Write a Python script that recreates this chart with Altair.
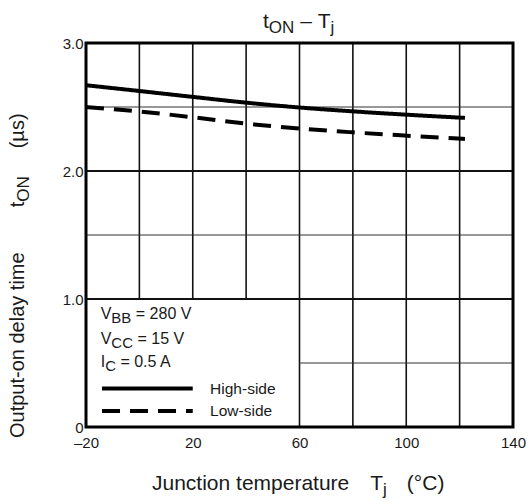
import altair as alt
import pandas as pd

# ---------------- data ----------------
temps = [-20, 0, 20, 40, 60, 80, 100, 122]
high_side = [2.670, 2.625, 2.579, 2.534, 2.496, 2.466, 2.440, 2.415]
low_side = [2.500, 2.465, 2.420, 2.370, 2.332, 2.302, 2.276, 2.250]
series_names = ["High-side", "Low-side"]

x_ticks = [-20, 20, 60, 100, 140]
y_ticks = [0, 1.0, 2.0, 3.0]
x_grid = [0, 20, 40, 60, 80, 100, 120]
y_grid_major = [1.0, 2.0]
y_grid_minor = [0.5, 1.5, 2.5]
x_domain = [-20, 140]
y_domain = [0, 3.0]
box_x = [-20, 60]     # legend box (white area, no grid)
box_y = [0, 1.0]

cond_main = ["V", "V", "I"]
cond_sub = ["BB", "CC", "C"]
cond_rest = ["= 280 V", "= 15 V", "= 0.5 A"]
cond_y = [0.844, 0.648, 0.465]
legend_y = [0.30, 0.125]
legend_x = [-14, 20]
legend_label_x = 26.5

FONT = "Liberation Sans"
INK = "#1a1a1a"
W_PLOT, H_PLOT = 427, 384

# Arial / Liberation Sans advance widths (1/1000 em)
WID = {' ': 278, '(': 333, ')': 333, '-': 333, '–': 556, '.': 278, '=': 584, '°': 400, 'µ': 576,
       'A': 667, 'B': 667, 'C': 722, 'H': 722, 'I': 278, 'J': 500, 'L': 556, 'N': 722, 'O': 778,
       'T': 611, 'V': 667, 'a': 556, 'c': 500, 'd': 556, 'e': 556, 'g': 556, 'h': 556, 'i': 222,
       'j': 222, 'l': 222, 'm': 833, 'n': 556, 'o': 556, 'p': 556, 'r': 333, 's': 500, 't': 278,
       'u': 556, 'w': 722, 'y': 500}


def tw(s, size):
    return sum(WID.get(c, 556) for c in s) / 1000.0 * size


xs = alt.Scale(domain=x_domain, nice=False, zero=False)
ys = alt.Scale(domain=y_domain, nice=False, zero=False)
x_axis = alt.Axis(values=x_ticks, grid=False, ticks=False, domain=False, title=None,
                  labelFont=FONT, labelFontSize=15, labelColor=INK, labelPadding=8,
                  labelFlush=False, labelOverlap=False, labelBound=False,
                  labelExpr="datum.value < 0 ? '–' + abs(datum.value) : '' + datum.value")
y_axis = alt.Axis(values=y_ticks, grid=False, ticks=False, domain=False, title=None,
                  labelFont=FONT, labelFontSize=15, labelColor=INK, labelPadding=3,
                  labelOverlap=False, labelBound=False,
                  labelExpr="datum.value == 0 ? '0' : format(datum.value, '.1f')")

# ---------------- grid ----------------
vgrid = pd.DataFrame({
    "x": x_grid,
    "y": [box_y[1] if g < box_x[1] else y_domain[0] for g in x_grid],
    "y2": [y_domain[1]] * len(x_grid),
})
hmaj = pd.DataFrame({
    "y": y_grid_major,
    "x": [box_x[1] if g < box_y[1] else x_domain[0] for g in y_grid_major],
    "x2": [x_domain[1]] * len(y_grid_major),
})
hmin = pd.DataFrame({
    "y": y_grid_minor,
    "x": [box_x[1] if g < box_y[1] else x_domain[0] for g in y_grid_minor],
    "x2": [x_domain[1]] * len(y_grid_minor),
})

X = lambda f: alt.X(f, type="quantitative", scale=xs, axis=x_axis)
Y = lambda f: alt.Y(f, type="quantitative", scale=ys, axis=y_axis)

layers = []
layers.append(alt.Chart(vgrid).mark_rule(color="#111", strokeWidth=1.6).encode(
    x=X("x"), y=Y("y"), y2="y2"))
layers.append(alt.Chart(hmin).mark_rule(color="#333", strokeWidth=1.2).encode(
    y=Y("y"), x=X("x"), x2="x2"))
layers.append(alt.Chart(hmaj).mark_rule(color="#111", strokeWidth=2.2).encode(
    y=Y("y"), x=X("x"), x2="x2"))

# ---------------- curves ----------------
curves = pd.DataFrame({
    "Tj": temps + temps,
    "tON": high_side + low_side,
    "series": [series_names[0]] * len(temps) + [series_names[1]] * len(temps),
})
dash = alt.StrokeDash("series:N", scale=alt.Scale(domain=series_names, range=[[1, 0], [18, 10]]),
                      legend=None)
layers.append(alt.Chart(curves).mark_line(color="black", strokeWidth=4, interpolate="monotone",
                                          strokeCap="butt").encode(
    x=X("Tj"), y=Y("tON"), strokeDash=dash, detail="series:N"))

# ---------------- frame ----------------
frame = pd.DataFrame({"x": [x_domain[0]], "x2": [x_domain[1]], "y": [y_domain[0]], "y2": [y_domain[1]]})
layers.append(alt.Chart(frame).mark_rect(fill="white", fillOpacity=0, stroke="black",
                                         strokeWidth=3).encode(
    x=X("x"), x2="x2", y=Y("y"), y2="y2"))

# ---------------- inner legend ----------------
leg = pd.DataFrame({"series": series_names, "x": [legend_x[0]] * 2, "x2": [legend_x[1]] * 2,
                    "y": legend_y, "lx": [legend_label_x] * 2})
layers.append(alt.Chart(leg).mark_rule(color="black", strokeWidth=4, strokeCap="butt").encode(
    x=X("x"), x2="x2", y=Y("y"), strokeDash=dash))
layers.append(alt.Chart(leg).mark_text(font=FONT, fontSize=15.5, color=INK, align="left",
                                       baseline="middle").encode(
    x=X("lx"), y=Y("y"), text="series:N"))


def run(parts, x, y, angle=0, data_pos=False):
    """parts: list of (text, size, dy, gap_before)"""
    out = []
    off = 0.0
    for text, size, dy, gap in parts:
        off += gap
        props = dict(font=FONT, fontSize=size, color=INK, align="left", baseline="alphabetic",
                     dx=off, dy=dy)
        if angle:
            props["angle"] = angle
        ch = alt.Chart(pd.DataFrame({"t": [text]})).mark_text(**props)
        if data_pos:
            ch = ch.encode(x=alt.datum(x, scale=xs), y=alt.datum(y, scale=ys), text="t:N")
        else:
            ch = ch.encode(x=alt.value(x), y=alt.value(y), text="t:N")
        out.append(ch)
        off += tw(text, size)
    return out


for m, s, r, yy in zip(cond_main, cond_sub, cond_rest, cond_y):
    layers += run([(m, 16, 0, 0), (s, 15, 4, 0), (r, 16, 0, tw(" ", 16))], -14.5, yy, data_pos=True)

sp21 = tw(" ", 21)
# chart title  tON – Tj
layers += run([("t", 21, 0, 0), ("ON", 17, 5, 0), ("–", 21, 0, sp21), ("T", 21, 0, sp21),
               ("j", 17, 5, 0)], 177, -15)
# x title
layers += run([("Junction temperature", 21, 0, 0), ("T", 21, 0, 21), ("j", 17, 5, 0),
               ("(°C)", 21, 0, 20)], 66, 447)
# y title (rotated)
layers += run([("Output-on delay time", 20, 0, 0), ("t", 20, 0, 45), ("ON", 17, 5, 0),
               ("(µs)", 20, 0, 28)], -62, 395, angle=270)

chart = alt.layer(*layers).properties(
    width=W_PLOT, height=H_PLOT,
    autosize=alt.AutoSizeParams(type="none"),
    padding={"left": 86, "top": 43, "right": 15, "bottom": 74},
    background="white",
).configure_view(stroke=None)

chart.save("out.html", embed_options={"renderer": "svg", "actions": False})
